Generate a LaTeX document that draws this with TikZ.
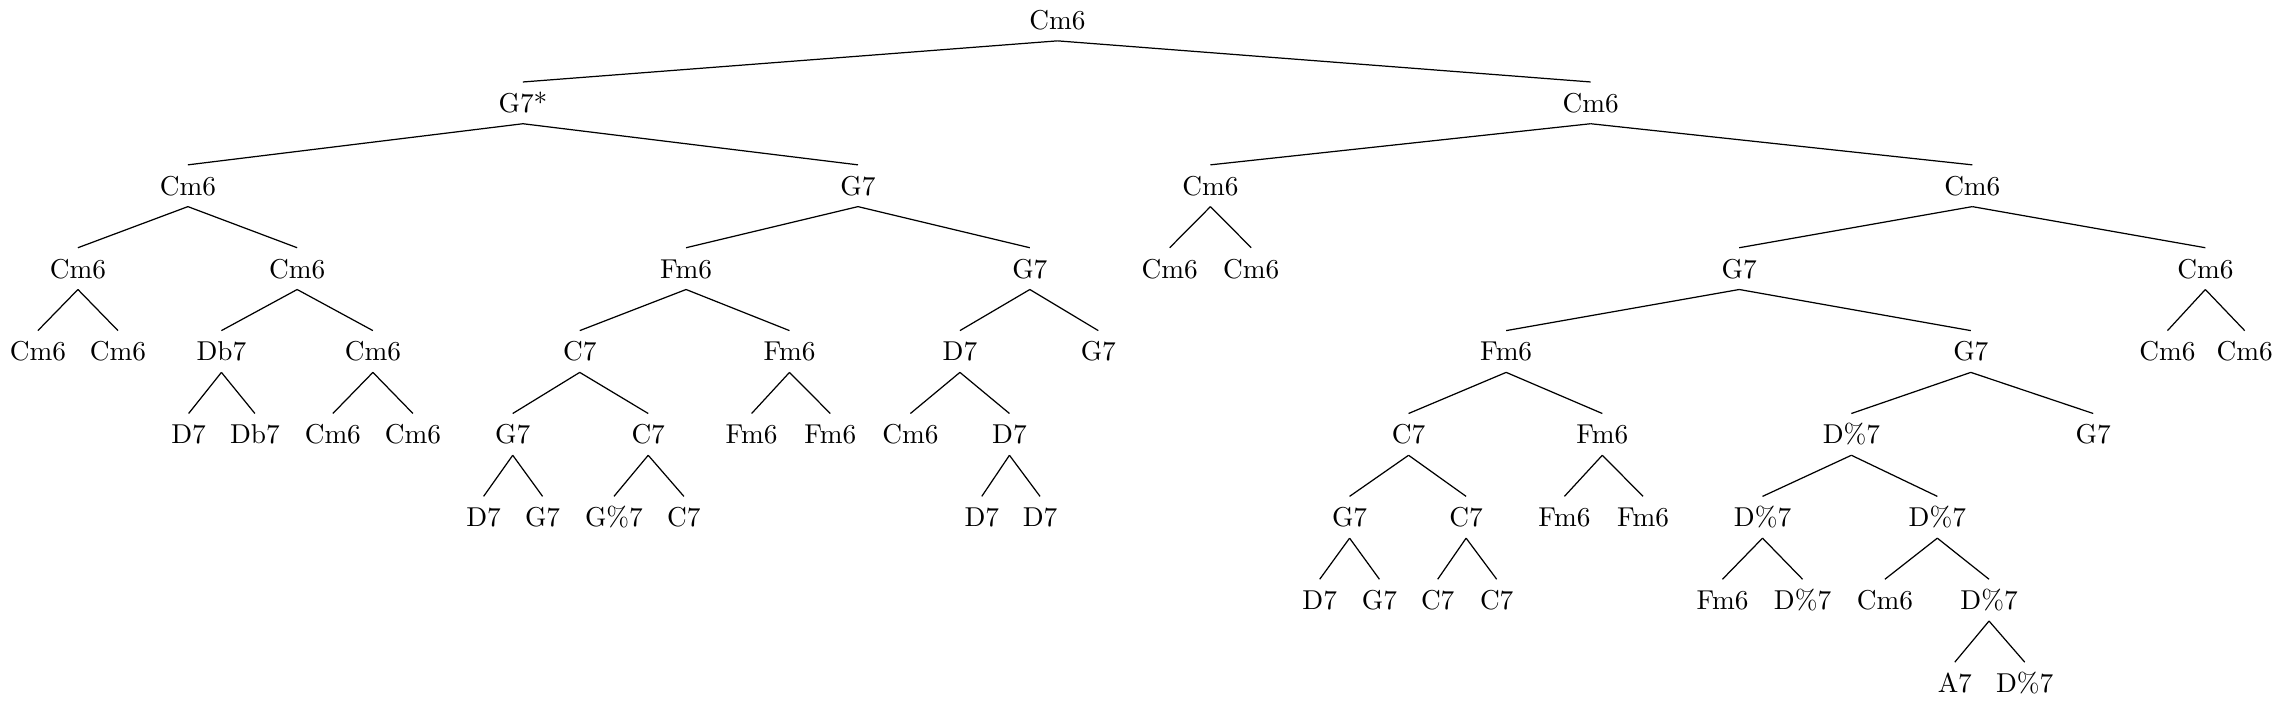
\documentclass[tikz,border=0pt]{standalone}
\usepackage{tikz}

\begin{document}
\begin{tikzpicture}[
  x=0.5336pt, y=-0.5336pt,
  chord/.style={inner sep=4pt, text height=6.9pt, text depth=0pt},
  edge/.style={line width=0.45pt}
]
\useasboundingbox (0,0) rectangle (1568,483);
% level 0-2
\node[chord] (n) at (726,13.7) {Cm6};
\node[chord] (n1) at (359,70.6) {G7*};
\node[chord] (n2) at (1092,70.6) {Cm6};
\node[chord] (n11) at (129,127.5) {Cm6};
\node[chord] (n12) at (589,127.5) {G7};
\node[chord] (n21) at (831,127.5) {Cm6};
\node[chord] (n22) at (1354,127.5) {Cm6};
% level 3
\node[chord] (n111) at (53.5,184.4) {Cm6};
\node[chord] (n112) at (204,184.4) {Cm6};
\node[chord] (n121) at (471,184.4) {Fm6};
\node[chord] (n122) at (707,184.4) {G7};
\node[chord] (n211) at (803,184.4) {Cm6};
\node[chord] (n212) at (859,184.4) {Cm6};
\node[chord] (n221) at (1194,184.4) {G7};
\node[chord] (n222) at (1514,184.4) {Cm6};
% level 4
\node[chord] (n1111) at (26,241.3) {Cm6};
\node[chord] (n1112) at (81,241.3) {Cm6};
\node[chord] (n1121) at (152,241.3) {Db7};
\node[chord] (n1122) at (256,241.3) {Cm6};
\node[chord] (n1211) at (398,241.3) {C7};
\node[chord] (n1212) at (542,241.3) {Fm6};
\node[chord] (n1221) at (659,241.3) {D7};
\node[chord] (n1222) at (754,241.3) {G7};
\node[chord] (n2211) at (1034,241.3) {Fm6};
\node[chord] (n2212) at (1353,241.3) {G7};
\node[chord] (n2221) at (1488,241.3) {Cm6};
\node[chord] (n2222) at (1541,241.3) {Cm6};
% level 5
\node[chord] (n11211) at (129.5,298.2) {D7};
\node[chord] (n11212) at (175,298.2) {Db7};
\node[chord] (n11221) at (228.5,298.2) {Cm6};
\node[chord] (n11222) at (283.5,298.2) {Cm6};
\node[chord] (n12111) at (352,298.2) {G7};
\node[chord] (n12112) at (445,298.2) {C7};
\node[chord] (n12121) at (516,298.2) {Fm6};
\node[chord] (n12122) at (570,298.2) {Fm6};
\node[chord] (n12211) at (625,298.2) {Cm6};
\node[chord] (n12212) at (693,298.2) {D7};
\node[chord] (n22111) at (967,298.2) {C7};
\node[chord] (n22112) at (1100,298.2) {Fm6};
\node[chord] (n22121) at (1271,298.2) {D\%7};
\node[chord] (n22122) at (1437,298.2) {G7};
% level 6
\node[chord] (n121111) at (332,355.1) {D7};
\node[chord] (n121112) at (372.5,355.1) {G7};
\node[chord] (n121121) at (421.5,355.1) {G\%7};
\node[chord] (n121122) at (469.5,355.1) {C7};
\node[chord] (n122121) at (674,355.1) {D7};
\node[chord] (n122122) at (714,355.1) {D7};
\node[chord] (n221111) at (926.5,355.1) {G7};
\node[chord] (n221112) at (1006.5,355.1) {C7};
\node[chord] (n221121) at (1074,355.1) {Fm6};
\node[chord] (n221122) at (1128,355.1) {Fm6};
\node[chord] (n221211) at (1210,355.1) {D\%7};
\node[chord] (n221212) at (1330,355.1) {D\%7};
% level 7-8
\node[chord] (n2211111) at (906,412) {D7};
\node[chord] (n2211112) at (947,412) {G7};
\node[chord] (n2211121) at (987,412) {C7};
\node[chord] (n2211122) at (1027.5,412) {C7};
\node[chord] (n2212111) at (1182.5,412) {Fm6};
\node[chord] (n2212112) at (1237.5,412) {D\%7};
\node[chord] (n2212121) at (1294,412) {Cm6};
\node[chord] (n2212122) at (1365.5,412) {D\%7};
\node[chord] (n22121221) at (1342,468.9) {A7};
\node[chord] (n22121222) at (1390,468.9) {D\%7};
% edges
\draw[edge] (n.south) -- (n1.north); \draw[edge] (n.south) -- (n2.north);
\draw[edge] (n1.south) -- (n11.north); \draw[edge] (n1.south) -- (n12.north);
\draw[edge] (n2.south) -- (n21.north); \draw[edge] (n2.south) -- (n22.north);
\draw[edge] (n11.south) -- (n111.north); \draw[edge] (n11.south) -- (n112.north);
\draw[edge] (n12.south) -- (n121.north); \draw[edge] (n12.south) -- (n122.north);
\draw[edge] (n21.south) -- (n211.north); \draw[edge] (n21.south) -- (n212.north);
\draw[edge] (n22.south) -- (n221.north); \draw[edge] (n22.south) -- (n222.north);
\draw[edge] (n111.south) -- (n1111.north); \draw[edge] (n111.south) -- (n1112.north);
\draw[edge] (n112.south) -- (n1121.north); \draw[edge] (n112.south) -- (n1122.north);
\draw[edge] (n121.south) -- (n1211.north); \draw[edge] (n121.south) -- (n1212.north);
\draw[edge] (n122.south) -- (n1221.north); \draw[edge] (n122.south) -- (n1222.north);
\draw[edge] (n221.south) -- (n2211.north); \draw[edge] (n221.south) -- (n2212.north);
\draw[edge] (n222.south) -- (n2221.north); \draw[edge] (n222.south) -- (n2222.north);
\draw[edge] (n1121.south) -- (n11211.north); \draw[edge] (n1121.south) -- (n11212.north);
\draw[edge] (n1122.south) -- (n11221.north); \draw[edge] (n1122.south) -- (n11222.north);
\draw[edge] (n1211.south) -- (n12111.north); \draw[edge] (n1211.south) -- (n12112.north);
\draw[edge] (n1212.south) -- (n12121.north); \draw[edge] (n1212.south) -- (n12122.north);
\draw[edge] (n1221.south) -- (n12211.north); \draw[edge] (n1221.south) -- (n12212.north);
\draw[edge] (n2211.south) -- (n22111.north); \draw[edge] (n2211.south) -- (n22112.north);
\draw[edge] (n2212.south) -- (n22121.north); \draw[edge] (n2212.south) -- (n22122.north);
\draw[edge] (n12111.south) -- (n121111.north); \draw[edge] (n12111.south) -- (n121112.north);
\draw[edge] (n12112.south) -- (n121121.north); \draw[edge] (n12112.south) -- (n121122.north);
\draw[edge] (n12212.south) -- (n122121.north); \draw[edge] (n12212.south) -- (n122122.north);
\draw[edge] (n22111.south) -- (n221111.north); \draw[edge] (n22111.south) -- (n221112.north);
\draw[edge] (n22112.south) -- (n221121.north); \draw[edge] (n22112.south) -- (n221122.north);
\draw[edge] (n22121.south) -- (n221211.north); \draw[edge] (n22121.south) -- (n221212.north);
\draw[edge] (n221111.south) -- (n2211111.north); \draw[edge] (n221111.south) -- (n2211112.north);
\draw[edge] (n221112.south) -- (n2211121.north); \draw[edge] (n221112.south) -- (n2211122.north);
\draw[edge] (n221211.south) -- (n2212111.north); \draw[edge] (n221211.south) -- (n2212112.north);
\draw[edge] (n221212.south) -- (n2212121.north); \draw[edge] (n221212.south) -- (n2212122.north);
\draw[edge] (n2212122.south) -- (n22121221.north); \draw[edge] (n2212122.south) -- (n22121222.north);
\end{tikzpicture}
\end{document}
